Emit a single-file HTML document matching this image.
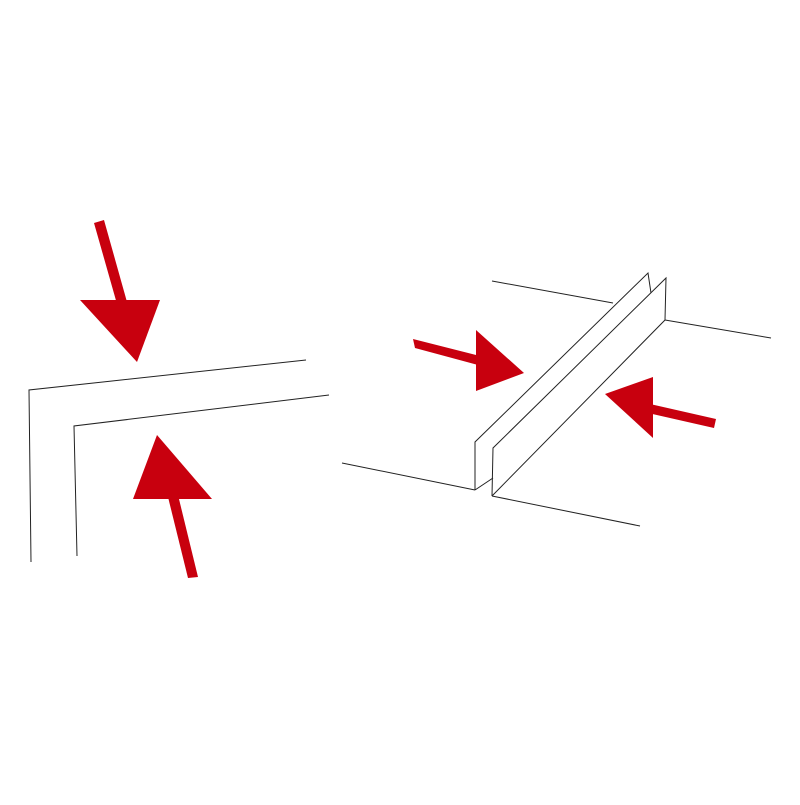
<!DOCTYPE html>
<html><head><style>html,body{margin:0;padding:0;background:#fff}</style></head><body>
<svg width="800" height="800" viewBox="0 0 800 800" xmlns="http://www.w3.org/2000/svg">
<g fill="none" stroke="#222" stroke-width="1">
<polyline points="31,562 29,390 306,360"/>
<polyline points="77,556 74,426 329,395"/>
<line x1="342" y1="463" x2="475" y2="490"/>
<polyline points="475,490 475,442 648,273 651,293"/>
<line x1="492" y1="281" x2="613" y2="303"/>
<line x1="475" y1="490" x2="493" y2="478"/>
<polyline points="492,496 493,448 666,278 665,320 492,496"/>
<line x1="665" y1="320" x2="771" y2="338"/>
<line x1="492" y1="496" x2="640" y2="526"/>
</g>
<g fill="#c8000e">
<polygon points="94,223 104,220 127,302 117,304"/>
<polygon points="80,300 160,300 137,362"/>
<polygon points="168,497 178,495 198,577 188,578"/>
<polygon points="157,435 133,499 212,499"/>
<polygon points="413,339 415,348 478,365 480,356"/>
<polygon points="476,330 476,391 524,373"/>
<polygon points="650,404 648,413 714,428 716,419"/>
<polygon points="605,394 653,377 653,438"/>
</g>
</svg>
</body></html>
